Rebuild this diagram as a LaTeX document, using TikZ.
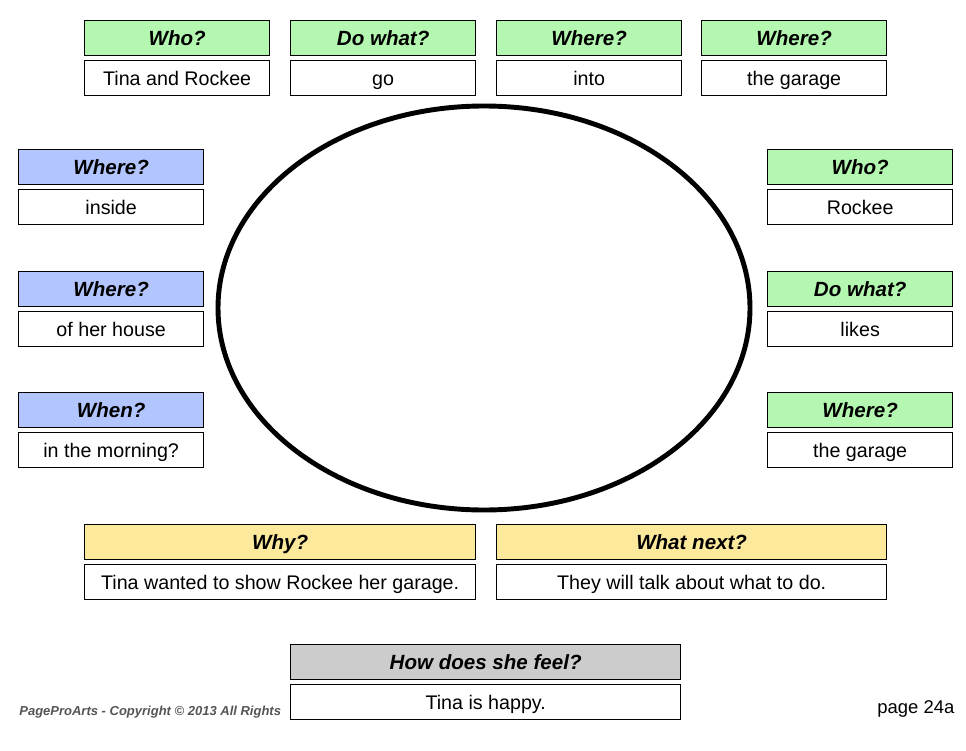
\documentclass[tikz,border=0pt]{standalone}
\usepackage{fontspec}
\setmainfont{Liberation Sans}
\usetikzlibrary{shapes.geometric}
\definecolor{hgreen}{HTML}{B3F7B0}
\definecolor{hblue}{HTML}{B3C5FE}
\definecolor{hyellow}{HTML}{FCE99C}
\definecolor{hgray}{HTML}{CCCCCC}
\definecolor{foot}{HTML}{555555}
\tikzset{
  hdr/.style={draw=black,line width=0.75pt,inner sep=0pt,text height=8.3pt,text depth=0pt,font=\fontsize{11.7}{13}\selectfont\bfseries\itshape},
  cnt/.style={draw=black,line width=0.75pt,fill=white,inner sep=0pt,text height=8pt,text depth=0pt,font=\fontsize{11.2}{13}\selectfont}
}
\newcommand{\qbox}[7]{% name, x1, x2, y1 (header top), colour, header, content
  \node[hdr,fill=#5,minimum width={(#3-#2)*0.02cm},minimum height={35*0.02cm},anchor=north west] (#1h) at (#2,#4) {#6};
  \node[cnt,minimum width={(#3-#2)*0.02cm},minimum height={35*0.02cm},anchor=north west] (#1c) at (#2,#4+40) {#7};
}
\begin{document}
\begin{tikzpicture}[x=0.02cm,y=-0.02cm]
\useasboundingbox[fill=white] (0,0) rectangle (966,750);
\qbox{t1}{84}{269}{20}{hgreen}{Who?}{Tina and Rockee}
\qbox{t2}{290}{475}{20}{hgreen}{Do what?}{go}
\qbox{t3}{496}{681}{20}{hgreen}{Where?}{into}
\qbox{t4}{701}{886}{20}{hgreen}{Where?}{the garage}
\qbox{l1}{18}{203}{149}{hblue}{Where?}{inside}
\qbox{l2}{18}{203}{271}{hblue}{Where?}{of her house}
\qbox{l3}{18}{203}{392}{hblue}{When?}{in the morning?}
\qbox{r1}{767}{952}{149}{hgreen}{Who?}{Rockee}
\qbox{r2}{767}{952}{271}{hgreen}{Do what?}{likes}
\qbox{r3}{767}{952}{392}{hgreen}{Where?}{the garage}
\qbox{b1}{84}{475}{524}{hyellow}{Why?}{Tina wanted to show Rockee her garage.}
\qbox{b2}{496}{886}{524}{hyellow}{What next?}{They will talk about what to do.}
\qbox{f1}{290}{680}{644}{hgray}{How does she feel?}{Tina is happy.}
\node[draw=black,line width=2.8pt,ellipse,minimum width={532*0.02cm},minimum height={404*0.02cm},inner sep=0pt] (ell) at (484,308) {};
\node[anchor=west,text=foot,font=\fontsize{7.4}{9}\selectfont\bfseries\itshape,inner sep=0pt] (copy) at (19,712) {PageProArts - Copyright © 2013 All Rights};
\node[anchor=west,font=\fontsize{10.5}{12}\selectfont,inner sep=0pt] (pg) at (877,709) {page 24a};
\end{tikzpicture}
\end{document}
